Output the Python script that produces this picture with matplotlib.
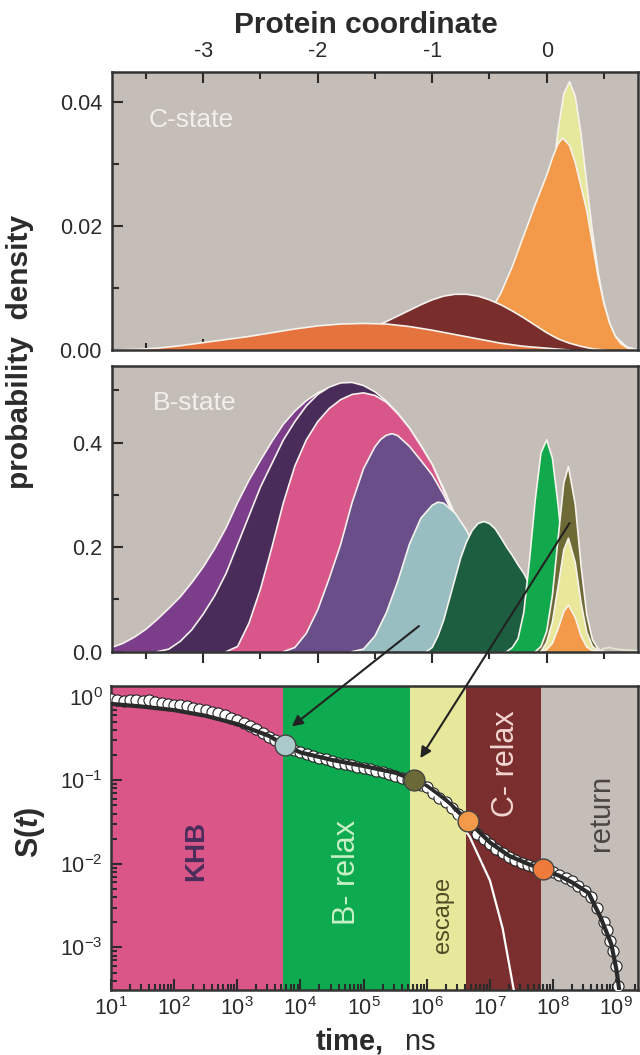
import numpy as np
import matplotlib
matplotlib.use("Agg")
import matplotlib.pyplot as plt
from matplotlib.patches import ConnectionPatch
from matplotlib.ticker import MultipleLocator, FormatStrFormatter, LogLocator, NullFormatter

plt.rcParams['font.family'] = ['Liberation Sans', 'DejaVu Sans']
plt.rcParams['axes.unicode_minus'] = False
plt.rcParams['mathtext.fontset'] = 'custom'
plt.rcParams['mathtext.rm'] = 'Liberation Sans'
plt.rcParams['mathtext.it'] = 'Liberation Sans:italic'
plt.rcParams['mathtext.bf'] = 'Liberation Sans:bold'
try:
    plt.rcParams['mathtext.bfit'] = 'Liberation Sans:italic:bold'
except KeyError:
    pass

BG = '#C5BEB8'
OUTLINE = '#F6F3EE'
INK = '#2B2B2B'
TICK_FS = 15.5

# ---------------- C-state (top panel), back to front ----------------
c_yellow_x = [-0.2, -0.1, 0.0, 0.05, 0.1, 0.15, 0.2, 0.25, 0.3, 0.35, 0.4, 0.45, 0.5, 0.55, 0.6, 0.7, 0.8]
c_yellow_y = [0.0017, 0.0071, 0.0193, 0.0277, 0.0355, 0.0414, 0.0433, 0.0409, 0.0349, 0.0268, 0.0190, 0.0125,
              0.0076, 0.0043, 0.0022, 0.0005, 0.0]

c_orange_x = [-0.8, -0.7, -0.6, -0.5, -0.4, -0.3, -0.2, -0.1, 0.0, 0.05, 0.1, 0.14, 0.2, 0.25, 0.3, 0.35, 0.4,
              0.45, 0.5, 0.55, 0.6, 0.65, 0.7, 0.75]
c_orange_y = [0.0005, 0.0015, 0.0035, 0.0060, 0.0092, 0.0135, 0.0185, 0.0235, 0.0282, 0.0310, 0.0333, 0.0342,
              0.0330, 0.0302, 0.0264, 0.0225, 0.0172, 0.0118, 0.0075, 0.0043, 0.0022, 0.0010, 0.0004, 0.0]

c_maroon_x = [-2.4, -2.2, -2.0, -1.8, -1.6, -1.4, -1.3, -1.2, -1.1, -1.0, -0.9, -0.8, -0.7, -0.6, -0.5, -0.4,
              -0.3, -0.2, -0.1, 0.0, 0.1, 0.2, 0.3, 0.4, 0.5]
c_maroon_y = [0.0, 0.0004, 0.0010, 0.0019, 0.0031, 0.0046, 0.0055, 0.0064, 0.0073, 0.0081, 0.0087, 0.0090,
              0.0090, 0.0087, 0.0081, 0.0073, 0.0063, 0.0052, 0.0040, 0.0028, 0.0018, 0.0011, 0.0006, 0.0002, 0.0]

c_red_x = [-3.8, -3.6, -3.4, -3.2, -3.0, -2.8, -2.6, -2.4, -2.2, -2.0, -1.8, -1.6, -1.4, -1.2, -1.0, -0.8,
           -0.6, -0.4, -0.2, 0.0, 0.2]
c_red_y = [0.0, 0.0001, 0.0003, 0.0007, 0.0012, 0.0017, 0.0022, 0.0028, 0.0034, 0.0039, 0.0042, 0.0043,
           0.0042, 0.0038, 0.0032, 0.0025, 0.0018, 0.0011, 0.0006, 0.0003, 0.0]

# ---------------- B-state (middle panel), back to front ----------------
b_purple_x = [-3.8, -3.7, -3.6, -3.5, -3.4, -3.3, -3.2, -3.1, -3.0, -2.9, -2.8, -2.7, -2.6, -2.5, -2.4, -2.3,
              -2.2, -2.1, -2.0, -1.9, -1.8, -1.7, -1.6, -1.5, -1.4, -1.3, -1.2, -1.1, -1.0, -0.9, -0.8, -0.7,
              -0.6, -0.5, -0.4, -0.3, -0.2, -0.1, 0.0]
b_purple_y = [0.008, 0.016, 0.028, 0.043, 0.062, 0.083, 0.105, 0.132, 0.162, 0.197, 0.237, 0.285, 0.328, 0.366,
              0.402, 0.435, 0.460, 0.480, 0.495, 0.505, 0.510, 0.508, 0.500, 0.488, 0.470, 0.450, 0.422, 0.390,
              0.355, 0.310, 0.260, 0.210, 0.160, 0.110, 0.072, 0.042, 0.020, 0.007, 0.0]

b_dpurple_x = [-3.4, -3.3, -3.2, -3.1, -3.0, -2.9, -2.8, -2.7, -2.6, -2.5, -2.4, -2.3, -2.2, -2.1, -2.0, -1.9,
               -1.8, -1.7, -1.6, -1.5, -1.4, -1.3, -1.2, -1.1, -1.0, -0.9, -0.8, -0.7, -0.6, -0.5, -0.4, -0.3,
               -0.2, -0.1, 0.0]
b_dpurple_y = [0.0, 0.005, 0.020, 0.042, 0.072, 0.107, 0.150, 0.205, 0.260, 0.315, 0.360, 0.405, 0.440, 0.470,
               0.492, 0.506, 0.514, 0.515, 0.509, 0.497, 0.479, 0.456, 0.428, 0.395, 0.358, 0.312, 0.262, 0.212,
               0.162, 0.112, 0.073, 0.043, 0.020, 0.007, 0.0]

b_pink_x = [-2.8, -2.7, -2.6, -2.5, -2.4, -2.3, -2.2, -2.1, -2.0, -1.9, -1.8, -1.7, -1.6, -1.5, -1.4, -1.3,
            -1.2, -1.1, -1.0, -0.9, -0.8, -0.7, -0.6, -0.5, -0.4, -0.3, -0.2, -0.1, 0.0]
b_pink_y = [0.0, 0.010, 0.055, 0.120, 0.200, 0.285, 0.355, 0.405, 0.440, 0.465, 0.482, 0.492, 0.495, 0.490,
            0.477, 0.455, 0.428, 0.394, 0.358, 0.308, 0.258, 0.210, 0.160, 0.112, 0.073, 0.043, 0.020, 0.007, 0.0]

b_violet_x = [-2.3, -2.2, -2.1, -2.0, -1.9, -1.8, -1.7, -1.6, -1.5, -1.45, -1.4, -1.35, -1.3, -1.2, -1.1, -1.0,
              -0.9, -0.8, -0.7, -0.6, -0.5, -0.4, -0.3, -0.2, -0.1, 0.0]
b_violet_y = [0.0, 0.008, 0.035, 0.080, 0.140, 0.205, 0.285, 0.350, 0.392, 0.406, 0.414, 0.417, 0.413, 0.393,
              0.366, 0.338, 0.300, 0.255, 0.205, 0.155, 0.108, 0.070, 0.040, 0.018, 0.006, 0.0]

b_lblue_x = [-1.7, -1.6, -1.5, -1.4, -1.3, -1.2, -1.1, -1.0, -0.95, -0.9, -0.8, -0.7, -0.6, -0.5, -0.4, -0.3,
             -0.2, -0.1, 0.0, 0.1]
b_lblue_y = [0.0, 0.005, 0.030, 0.075, 0.135, 0.205, 0.255, 0.280, 0.286, 0.284, 0.265, 0.232, 0.190, 0.145,
             0.100, 0.065, 0.035, 0.015, 0.004, 0.0]

b_dgreen_x = [-1.05, -1.0, -0.95, -0.9, -0.85, -0.8, -0.75, -0.7, -0.65, -0.6, -0.55, -0.5, -0.45, -0.4, -0.35,
              -0.3, -0.25, -0.2, -0.15, -0.1, -0.05, 0.0, 0.05, 0.1, 0.15]
b_dgreen_y = [0.0, 0.008, 0.030, 0.060, 0.100, 0.140, 0.180, 0.210, 0.232, 0.245, 0.249, 0.245, 0.235, 0.218,
              0.200, 0.184, 0.166, 0.150, 0.128, 0.095, 0.065, 0.038, 0.018, 0.006, 0.0]

b_bgreen_x = [-0.35, -0.3, -0.25, -0.2, -0.15, -0.1, -0.05, 0.0, 0.05, 0.1, 0.15, 0.2, 0.25, 0.3, 0.35]
b_bgreen_y = [0.0, 0.008, 0.025, 0.075, 0.175, 0.290, 0.380, 0.405, 0.370, 0.280, 0.170, 0.085, 0.035, 0.010, 0.0]

b_olive_x = [-0.1, -0.05, 0.0, 0.05, 0.1, 0.15, 0.19, 0.25, 0.3, 0.35, 0.4, 0.45, 0.5]
b_olive_y = [0.0, 0.010, 0.039, 0.108, 0.217, 0.323, 0.354, 0.281, 0.165, 0.071, 0.023, 0.005, 0.0]

b_yellow_x = [-0.05, 0.0, 0.05, 0.1, 0.15, 0.19, 0.25, 0.3, 0.35, 0.4, 0.45, 0.5]
b_yellow_y = [0.0, 0.018, 0.057, 0.125, 0.195, 0.217, 0.170, 0.094, 0.037, 0.010, 0.002, 0.0]

b_orange_x = [-0.05, 0.0, 0.05, 0.1, 0.15, 0.19, 0.25, 0.3, 0.35, 0.4, 0.45]
b_orange_y = [0.0, 0.004, 0.016, 0.044, 0.077, 0.089, 0.065, 0.030, 0.009, 0.002, 0.0]

b_tail_x = [0.45, 0.5, 0.55, 0.6, 0.7, 0.8]
b_tail_y = [0.0, 0.006, 0.008, 0.005, 0.003, 0.002]

# ---------------- S(t) (bottom panel) ----------------
band_edges = [1e1, 5.3e3, 5.4e5, 4.1e6, 6.5e7, 2.2e9]
band_colors = ['#DA5689', '#0DAA4F', '#E8E89C', '#7A2F2E', BG]

data_logt = [1.0, 1.1, 1.2, 1.3, 1.4, 1.5, 1.6, 1.7, 1.8, 1.9, 2.0, 2.1, 2.2, 2.3, 2.4, 2.5, 2.6, 2.7, 2.8, 2.9,
             3.0, 3.1, 3.2, 3.3, 3.4, 3.5, 3.6, 3.7, 3.8, 3.9, 4.0, 4.1, 4.2, 4.3, 4.4, 4.5, 4.6, 4.7, 4.8, 4.9,
             5.0, 5.1, 5.2, 5.3, 5.4, 5.5, 5.6, 5.7, 5.8, 5.9, 6.0, 6.1, 6.2, 6.3, 6.4, 6.5, 6.6, 6.7, 6.8, 6.9,
             7.0, 7.1, 7.2, 7.3, 7.4, 7.5, 7.6, 7.7, 7.8, 7.9, 8.0, 8.1, 8.2, 8.3, 8.4, 8.5, 8.6, 8.7, 8.8, 8.85,
             8.9, 8.95, 9.0, 9.03]
data_S = [0.95, 0.90, 0.88, 0.92, 0.90, 0.89, 0.90, 0.86, 0.84, 0.82, 0.80, 0.79, 0.77, 0.74, 0.72, 0.70, 0.66,
          0.63, 0.60, 0.56, 0.53, 0.49, 0.45, 0.41, 0.37, 0.33, 0.30, 0.27, 0.25, 0.23, 0.215, 0.205, 0.195,
          0.185, 0.178, 0.170, 0.163, 0.157, 0.151, 0.146, 0.141, 0.135, 0.130, 0.125, 0.119, 0.113, 0.107,
          0.101, 0.095, 0.088, 0.082, 0.071, 0.062, 0.055, 0.046, 0.039, 0.034, 0.028, 0.023, 0.0198, 0.0172,
          0.0152, 0.0135, 0.0121, 0.0111, 0.0103, 0.0097, 0.0091, 0.0087, 0.0082, 0.0079, 0.0074, 0.0068,
          0.0062, 0.0055, 0.0047, 0.0040, 0.0030, 0.0020, 0.0016, 0.0012, 0.0009, 0.0006, 0.00035]

fit_logt = [1.0, 1.5, 2.0, 2.5, 3.0, 3.5, 3.75, 4.0, 4.5, 5.0, 5.5, 5.79, 6.0, 6.3, 6.65, 7.0, 7.3, 7.6, 7.84,
            8.1, 8.3, 8.56, 8.75, 8.92, 9.0, 9.05]
fit_S = [0.82, 0.76, 0.69, 0.59, 0.47, 0.34, 0.263, 0.215, 0.175, 0.148, 0.123, 0.102, 0.085, 0.058, 0.0327,
         0.018, 0.0125, 0.0100, 0.0086, 0.0072, 0.0060, 0.0045, 0.0023, 0.0011, 0.00055, 0.0003]

escape_logt = [5.79, 6.0, 6.2, 6.36, 6.68, 7.0, 7.2, 7.38]
escape_S = [0.100, 0.078, 0.060, 0.048, 0.021, 0.0063, 0.0017, 0.0003]

circle_logt = [3.75, 5.79, 6.65, 7.84]
circle_S = [0.263, 0.102, 0.0327, 0.0086]
circle_colors = ['#A9C9CB', '#6B6935', '#F29A4A', '#EE7B3B']

stage_labels = ['KHB', 'B- relax', 'escape', 'C- relax', 'return']
stage_logt = [2.35, 4.74, 6.26, 7.26, 8.75]
stage_logS = [-1.85, -2.10, -2.61, -0.80, -1.39]
stage_colors = ['#4A2D5C', '#C8F0C6', '#4F4C25', '#F2D6D2', '#4A4543']
stage_sizes = [20, 22, 17, 22, 21]
stage_weights = ['bold', 'normal', 'normal', 'normal', 'normal']


def draw_curves(ax, curves):
    for x, y, c in curves:
        ax.fill_between(x, 0, y, facecolor=c, edgecolor='none', zorder=2)
        ax.plot(x, y, color=OUTLINE, lw=1.2, zorder=2)


def style_spines(ax):
    for s in ax.spines.values():
        s.set_linewidth(1.8)
        s.set_color('#333333')
    ax.set_facecolor(BG)


fig = plt.figure(figsize=(6.4, 10.55), dpi=100)
ax1 = fig.add_axes([0.1745, 0.6682, 0.8219, 0.2638])
ax2 = fig.add_axes([0.1745, 0.3823, 0.8219, 0.2711])
ax3 = fig.add_axes([0.1734, 0.0616, 0.8234, 0.2884])

# top panel
style_spines(ax1)
draw_curves(ax1, [(c_yellow_x, c_yellow_y, '#E6E89C'),
                  (c_orange_x, c_orange_y, '#F29A4A'),
                  (c_maroon_x, c_maroon_y, '#7A2E2C'),
                  (c_red_x, c_red_y, '#E5733D')])
ax1.set_xlim(-3.8, 0.795)
ax1.set_ylim(0, 0.0449)
ax1.xaxis.set_major_locator(MultipleLocator(1))
ax1.xaxis.set_minor_locator(MultipleLocator(0.5))
ax1.yaxis.set_major_locator(MultipleLocator(0.02))
ax1.yaxis.set_minor_locator(MultipleLocator(0.01))
ax1.yaxis.set_major_formatter(FormatStrFormatter('%.2f'))
ax1.xaxis.set_major_formatter(FormatStrFormatter('%d'))
ax1.tick_params(axis='x', which='both', direction='in', top=True, bottom=True,
                labeltop=True, labelbottom=False, width=1.5, labelsize=TICK_FS, pad=7, colors=INK)
ax1.tick_params(axis='y', which='both', direction='in', left=True, right=False, width=1.5,
                labelsize=TICK_FS, pad=7, colors=INK)
ax1.tick_params(which='major', length=8)
ax1.tick_params(which='minor', length=5)
ax1.text(-3.48, 0.0371, 'C-state', color='#F2EFEA', fontsize=19, ha='left', va='center')

# middle panel
style_spines(ax2)
draw_curves(ax2, [(b_purple_x, b_purple_y, '#7C3D8B'),
                  (b_dpurple_x, b_dpurple_y, '#4A2C5A'),
                  (b_pink_x, b_pink_y, '#D9568A'),
                  (b_violet_x, b_violet_y, '#6A4E8A'),
                  (b_lblue_x, b_lblue_y, '#98BEC2'),
                  (b_dgreen_x, b_dgreen_y, '#1D5E41'),
                  (b_bgreen_x, b_bgreen_y, '#12A84C'),
                  (b_olive_x, b_olive_y, '#6D6A36'),
                  (b_yellow_x, b_yellow_y, '#E9E89A'),
                  (b_orange_x, b_orange_y, '#F29A4A')])
ax2.plot(b_tail_x, b_tail_y, color='#E4E6D2', lw=1.2, zorder=2)
ax2.set_xlim(-3.8, 0.795)
ax2.set_ylim(0, 0.547)
ax2.xaxis.set_major_locator(MultipleLocator(1))
ax2.xaxis.set_minor_locator(MultipleLocator(0.5))
ax2.yaxis.set_major_locator(MultipleLocator(0.2))
ax2.yaxis.set_minor_locator(MultipleLocator(0.1))
ax2.yaxis.set_major_formatter(FormatStrFormatter('%.1f'))
ax2.tick_params(axis='x', which='both', direction='out', top=False, bottom=True,
                labelbottom=False, width=1.5, colors=INK)
ax2.tick_params(axis='y', which='both', direction='in', left=True, right=False, width=1.5,
                labelsize=TICK_FS, pad=7, colors=INK)
ax2.tick_params(which='major', length=8)
ax2.tick_params(which='minor', length=5)
ax2.text(-3.44, 0.475, 'B-state', color='#F2EFEA', fontsize=19, ha='left', va='center')

# bottom panel
style_spines(ax3)
ax3.set_xscale('log')
ax3.set_yscale('log')
for i in range(len(band_colors)):
    ax3.axvspan(band_edges[i], band_edges[i + 1], color=band_colors[i], lw=0, zorder=0)

ax3.plot(np.power(10.0, data_logt), data_S, 'o', ms=8, mfc='white', mec='#222222', mew=0.8, zorder=3)
ax3.plot(np.power(10.0, fit_logt), fit_S, color='#2A2A2A', lw=3, zorder=4)
ax3.plot(np.power(10.0, escape_logt), escape_S, color='white', lw=1.6, zorder=4)
for lt, s, c in zip(circle_logt, circle_S, circle_colors):
    ax3.plot(10 ** lt, s, 'o', ms=15, mfc=c, mec='#444444', mew=1, zorder=5)

for lab, lt, ls, c, fs, fw in zip(stage_labels, stage_logt, stage_logS, stage_colors, stage_sizes, stage_weights):
    ax3.text(10 ** lt, 10 ** ls, lab, rotation=90, ha='center', va='center', color=c,
             fontsize=fs, fontweight=fw, zorder=6)

ax3.set_xlim(1e1, 2.2e9)
ax3.set_ylim(3.1e-4, 1.35)
ax3.xaxis.set_major_locator(LogLocator(base=10, numticks=20))
ax3.xaxis.set_minor_locator(LogLocator(base=10, subs=np.arange(2, 10), numticks=200))
ax3.xaxis.set_minor_formatter(NullFormatter())
ax3.yaxis.set_major_locator(LogLocator(base=10, numticks=20))
ax3.yaxis.set_minor_locator(LogLocator(base=10, subs=np.arange(2, 10), numticks=200))
ax3.yaxis.set_minor_formatter(NullFormatter())
ax3.tick_params(axis='both', which='both', direction='in', top=False, right=False, width=1.5,
                labelsize=TICK_FS, colors=INK)
ax3.tick_params(axis='x', pad=5)
ax3.tick_params(axis='y', pad=6)
ax3.tick_params(which='major', length=8)
ax3.tick_params(which='minor', length=4)

# arrows from the distributions to S(t)
for start, end in [((-1.116, 0.049), (7.3e3, 0.44)), ((0.20, 0.246), (7.9e5, 0.184))]:
    con = ConnectionPatch(xyA=start, coordsA=ax2.transData, xyB=end, coordsB=ax3.transData,
                          arrowstyle='-|>', mutation_scale=16, lw=1.5, color='#222222', zorder=10)
    fig.add_artist(con)

# figure labels
fig.text(366 / 640, 1 - 33 / 1055, 'Protein coordinate', ha='center', va='baseline',
         fontsize=21.5, fontweight='bold', color=INK)
fig.text(20 / 640, 1 - 352 / 1055, 'probability  density', rotation=90, ha='center', va='center',
         fontsize=21.5, fontweight='bold', color=INK)
fig.text(30 / 640, 1 - 832 / 1055, r'$\mathbf{S(}\mathbfit{t}\mathbf{)}$', rotation=90, ha='center',
         va='center', fontsize=22, color=INK)
fig.text(375 / 640, 1 - 1049 / 1055, r'$\mathbf{time,}$  ns', ha='center', va='baseline',
         fontsize=21, color=INK)

fig.savefig('out.png', dpi=100)
